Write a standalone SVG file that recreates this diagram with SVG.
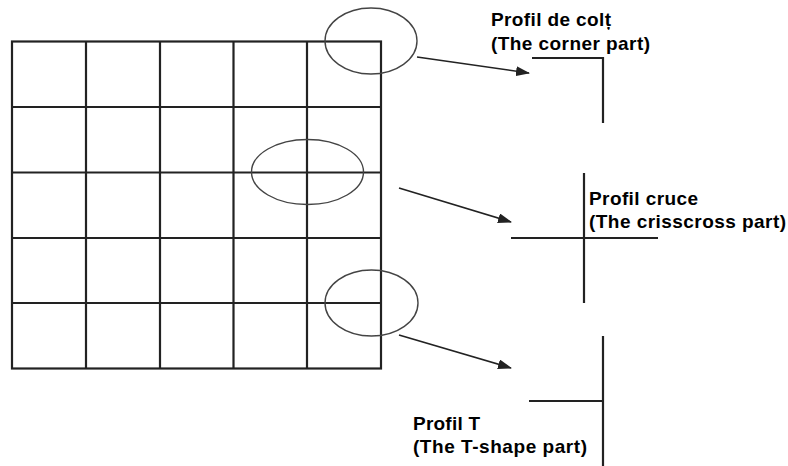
<svg xmlns="http://www.w3.org/2000/svg" width="788" height="466" viewBox="0 0 788 466">
<defs>
<style>
.grid{stroke:#222;stroke-width:2.2;fill:none}
.ell{stroke:#444;stroke-width:1.4;fill:none}
.conn{stroke:#222;stroke-width:1.6;fill:none}
.prof{stroke:#222;stroke-width:2.2;fill:none}
.lbl{font-family:"Liberation Sans",Arial,sans-serif;font-weight:bold;font-size:19px;fill:#000}
</style>
<marker id="ah" viewBox="0 0 14 10" refX="13" refY="5" markerWidth="14" markerHeight="10" markerUnits="userSpaceOnUse" orient="auto">
<path d="M0,0 L14,5 L0,10 z" fill="#222"/>
</marker>
</defs>
<rect width="788" height="466" fill="#fff"/>
<g id="grid">
<rect class="grid" x="12" y="41.5" width="369" height="327"/>
<path class="grid" d="M86,41.5V368.5M160,41.5V368.5M233.5,41.5V368.5M307,41.5V368.5M12,107H381M12,172.5H381M12,238H381M12,303H381"/>
</g>
<g id="ellipses">
<ellipse class="ell" cx="371" cy="41" rx="46" ry="33"/>
<ellipse class="ell" cx="307.5" cy="172" rx="56" ry="32.5"/>
<ellipse class="ell" cx="371.5" cy="303" rx="46.5" ry="33"/>
</g>
<g id="connectors">
<line class="conn" x1="417" y1="57" x2="529" y2="73" marker-end="url(#ah)"/>
<line class="conn" x1="399" y1="188" x2="511" y2="222" marker-end="url(#ah)"/>
<line class="conn" x1="399" y1="335" x2="511" y2="368" marker-end="url(#ah)"/>
</g>
<g id="corner">
<path class="prof" d="M532,58H603V123"/>
<text class="lbl" x="491" y="26" textLength="120" lengthAdjust="spacing">Profil de colț</text>
<text class="lbl" x="491" y="50" textLength="159" lengthAdjust="spacing">(The corner part)</text>
</g>
<g id="cross">
<path class="prof" d="M584,173V303M511,238H658"/>
<text class="lbl" x="589" y="205" textLength="109" lengthAdjust="spacing">Profil cruce</text>
<text class="lbl" x="589" y="228" textLength="197" lengthAdjust="spacing">(The crisscross part)</text>
</g>
<g id="tshape">
<path class="prof" d="M603,336V466M529,401H603"/>
<text class="lbl" x="413" y="430" textLength="67" lengthAdjust="spacing">Profil T</text>
<text class="lbl" x="413" y="453" textLength="174" lengthAdjust="spacing">(The T-shape part)</text>
</g>
</svg>
